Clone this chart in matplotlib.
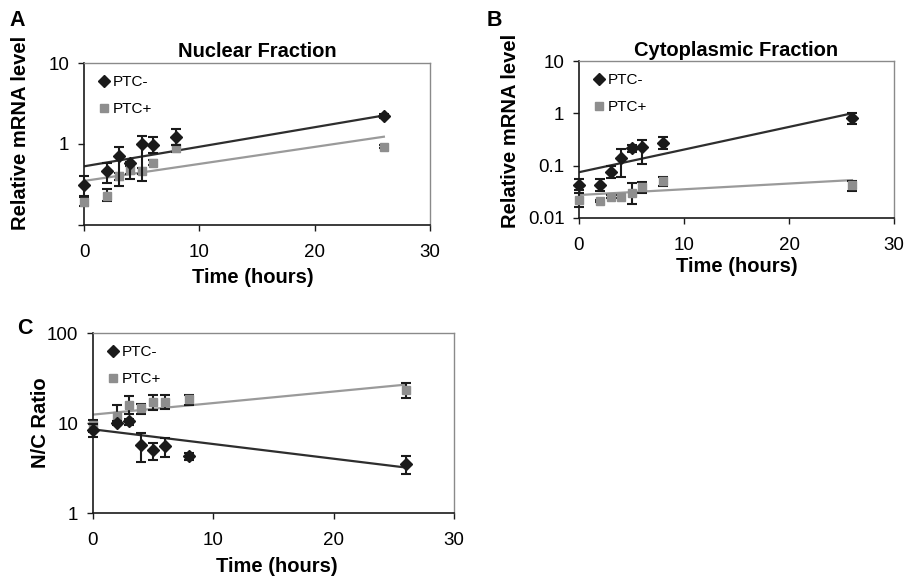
import matplotlib
matplotlib.use("Agg")
import matplotlib.pyplot as plt
from matplotlib.lines import Line2D
import numpy as np

plt.rcParams['font.family'] = ['Liberation Sans', 'DejaVu Sans']

W, H = 907, 578

time_h = [0, 2, 3, 4, 5, 6, 8, 26]
trend_x = [0, 26]

# Panel A - Nuclear fraction
nuc_minus = [0.31, 0.46, 0.71, 0.58, 0.99, 0.98, 1.23, 2.23]
nuc_minus_lo = [0.23, 0.33, 0.30, 0.37, 0.35, 0.77, 0.97, 2.10]
nuc_minus_hi = [0.40, 0.58, 0.93, 0.60, 1.25, 1.22, 1.55, 2.35]
nuc_plus = [0.19, 0.23, 0.40, 0.48, 0.46, 0.59, 0.89, 0.93]
nuc_plus_lo = [0.17, 0.20, 0.36, 0.43, 0.43, 0.55, 0.80, 0.90]
nuc_plus_hi = [0.22, 0.28, 0.44, 0.53, 0.50, 0.63, 0.96, 0.96]
nuc_trend_minus = [0.53, 2.25]
nuc_trend_plus = [0.35, 1.23]

# Panel B - Cytoplasmic fraction
cyt_minus = [0.043, 0.043, 0.077, 0.138, 0.22, 0.23, 0.275, 0.80]
cyt_minus_lo = [0.034, 0.033, 0.057, 0.062, 0.18, 0.106, 0.21, 0.62]
cyt_minus_hi = [0.056, 0.056, 0.100, 0.21, 0.25, 0.31, 0.36, 1.00]
cyt_plus = [0.022, 0.021, 0.0255, 0.0255, 0.0305, 0.0397, 0.051, 0.043]
cyt_plus_lo = [0.0164, 0.020, 0.024, 0.024, 0.0185, 0.0296, 0.041, 0.0328]
cyt_plus_hi = [0.0296, 0.022, 0.027, 0.028, 0.046, 0.048, 0.062, 0.050]
cyt_trend_minus = [0.075, 1.0]
cyt_trend_plus = [0.0275, 0.053]

# Panel C - N/C ratio
nc_minus = [8.3, 10.0, 10.4, 5.7, 5.0, 5.5, 4.3, 3.5]
nc_minus_lo = [7.0, 9.4, 9.6, 3.67, 3.9, 4.2, 3.9, 2.7]
nc_minus_hi = [9.8, 10.6, 11.2, 7.7, 6.0, 6.9, 4.7, 4.3]
nc_plus = [9.4, 12.0, 16.0, 14.5, 16.9, 17.2, 18.4, 23.5]
nc_plus_lo = [7.9, 10.0, 12.7, 12.5, 13.8, 14.2, 16.0, 19.2]
nc_plus_hi = [10.7, 15.7, 19.8, 16.4, 20.7, 20.3, 20.7, 27.5]
nc_trend_minus = [8.5, 3.2]
nc_trend_plus = [12.4, 26.7]

series_labels = ["PTC-", "PTC+"]
xticks = [0, 10, 20, 30]

BLACK = "#1a1a1a"
GRAY = "#8e8e8e"
LINE_DARK = "#2e2e2e"
LINE_GRAY = "#9a9a9a"

TICK_FS = 13.5
LABEL_FS = 14.5

fig = plt.figure(figsize=(W / 100, H / 100), dpi=100)


def ax_px(l, r, t, b):
    return fig.add_axes([l / W, 1 - b / H, (r - l) / W, (b - t) / H])


def draw(ax, ym, ylo, yhi, yp, plo, phi, tm, tp, ylim, yticks, ylabels):
    ym = np.array(ym); yp = np.array(yp)
    em = [ym - np.array(ylo), np.array(yhi) - ym]
    ep = [yp - np.array(plo), np.array(phi) - yp]
    ax.plot(trend_x, tm, color=LINE_DARK, lw=1.6, zorder=2)
    ax.plot(trend_x, tp, color=LINE_GRAY, lw=1.6, zorder=2)
    ax.errorbar(time_h, yp, yerr=ep, fmt='s', color=GRAY, ms=5.5, mec=GRAY,
                ecolor=BLACK, elinewidth=1.5, capsize=3.5, capthick=1.5,
                clip_on=False, zorder=3)
    ax.errorbar(time_h, ym, yerr=em, fmt='D', color=BLACK, ms=6, mec=BLACK,
                ecolor=BLACK, elinewidth=1.5, capsize=3.5, capthick=1.5,
                clip_on=False, zorder=4)
    ax.set_yscale('log')
    ax.set_xlim(0, 30)
    ax.set_ylim(*ylim)
    ax.set_xticks(xticks)
    ax.set_xticklabels([str(t) for t in xticks])
    ax.set_yticks(yticks)
    ax.set_yticklabels(ylabels)
    ax.yaxis.set_minor_locator(matplotlib.ticker.NullLocator())
    ax.tick_params(axis='both', labelsize=TICK_FS, direction='out', length=4,
                   width=1, color=BLACK)
    ax.tick_params(axis='x', pad=10)
    ax.tick_params(axis='y', pad=6.5)
    for s in ['left', 'bottom']:
        ax.spines[s].set_color(BLACK)
        ax.spines[s].set_linewidth(1.2)
    for s in ['top', 'right']:
        ax.spines[s].set_color('#8a8a8a')
        ax.spines[s].set_linewidth(1.0)
    hm = [Line2D([], [], marker='D', color=BLACK, ls='none', ms=6.5),
          Line2D([], [], marker='s', color=GRAY, ls='none', ms=5.5)]
    ax.legend(hm, series_labels, loc='upper left', frameon=False,
              fontsize=11, handletextpad=0.0, labelspacing=0.85,
              borderaxespad=0.3, handlelength=1.2, bbox_to_anchor=(0.0, 0.99))


def labels(ax, xl, yl, xpos, ypos):
    ax.set_xlabel(xl, fontsize=LABEL_FS, fontweight='bold')
    ax.xaxis.set_label_coords(*xpos)
    ax.xaxis.label.set_verticalalignment('center')
    ax.set_ylabel(yl, fontsize=LABEL_FS, fontweight='bold')
    ax.yaxis.set_label_coords(*ypos)
    ax.yaxis.label.set_verticalalignment('center')


# Panel A
axA = ax_px(84, 430, 63, 225)
draw(axA, nuc_minus, nuc_minus_lo, nuc_minus_hi, nuc_plus, nuc_plus_lo, nuc_plus_hi,
     nuc_trend_minus, nuc_trend_plus, (0.1, 10), [0.1, 1, 10], ["", "1", "10"])
axA.text(0.5, 1.068, "Nuclear Fraction", transform=axA.transAxes, ha='center',
         va='center', fontsize=LABEL_FS, fontweight='bold')
labels(axA, "Time (hours)", "Relative mRNA level", (0.488, -0.321), (-0.1835, 0.571))

# Panel B
axB = ax_px(579, 894, 61, 218)
draw(axB, cyt_minus, cyt_minus_lo, cyt_minus_hi, cyt_plus, cyt_plus_lo, cyt_plus_hi,
     cyt_trend_minus, cyt_trend_plus, (0.01, 10), [0.01, 0.1, 1, 10],
     ["0.01", "0.1", "1", "10"])
axB.text(0.5, 1.07, "Cytoplasmic Fraction", transform=axB.transAxes, ha='center',
         va='center', fontsize=LABEL_FS, fontweight='bold')
labels(axB, "Time (hours)", "Relative mRNA level", (0.5, -0.312), (-0.219, 0.554))

# Panel C
axC = ax_px(93, 454, 333, 513)
draw(axC, nc_minus, nc_minus_lo, nc_minus_hi, nc_plus, nc_plus_lo, nc_plus_hi,
     nc_trend_minus, nc_trend_plus, (1, 100), [1, 10, 100], ["1", "10", "100"])
labels(axC, "Time (hours)", "N/C Ratio", (0.509, -0.3), (-0.145, 0.5))

fig.text(17.5 / W, 1 - 21 / H, "A", fontsize=15.5, fontweight='bold', ha='center', va='center')
fig.text(494 / W, 1 - 20 / H, "B", fontsize=15.5, fontweight='bold', ha='center', va='center')
fig.text(25 / W, 1 - 329 / H, "C", fontsize=15.5, fontweight='bold', ha='center', va='center')

fig.savefig("out.png", dpi=100)
